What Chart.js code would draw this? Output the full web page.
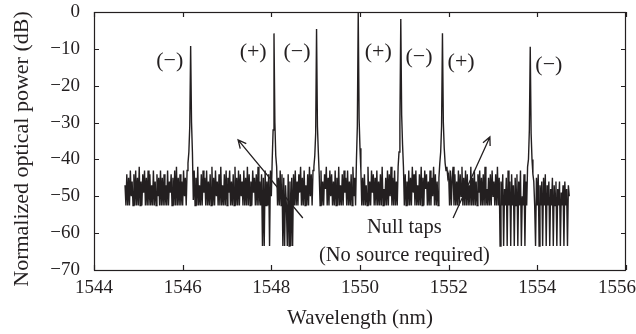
<!DOCTYPE html>
<html>
<head>
<meta charset="utf-8">
<script src="https://cdn.jsdelivr.net/npm/chart.js@4.4.1/dist/chart.umd.min.js"></script>
<style>
  html, body { margin: 0; padding: 0; background: #fff; }
</style>
</head>
<body>
<canvas id="myChart" width="636" height="334"></canvas>
<script>
// OSA sweep: first sample and sample spacing (nm)
const wavelengthStart = 1544.70
const wavelengthStep = 0.02

// normalized optical power (dB), one value per sample, 10 per row
const power = [
  -47, -52.5, -44, -52.5, -45, -52.5, -43, -50, -46, -52.5,
  -44, -52.5, -43, -52.5, -45, -52.5, -42, -52.5, -46, -52.5,
  -44, -49, -43, -52.5, -45, -52.5, -43, -52.5, -44, -52.5,
  -47, -52.5, -43, -52.5, -46, -52.5, -44, -50, -45, -52.5,
  -43, -52.5, -45, -52.5, -44, -52.5, -47, -52.5, -43, -52.5,
  -46, -49, -44, -52.5, -45, -52.5, -43, -52.5, -42, -52.5,
  -45, -52.5, -44, -52.5, -46, -52.5, -43, -50, -45, -52.5,
  -43, -41, -38, -31, -9.2, -30, -38, -51, -43, -52.5,
  -45, -52.5, -42, -52.5, -47, -52.5, -44, -52.5, -43, -49,
  -45, -52.5, -43, -52.5, -46, -52.5, -44, -52.5, -42, -52.5,
  -45, -52.5, -43, -50, -46, -52.5, -44, -52.5, -42, -52.5,
  -47, -52.5, -44, -52.5, -43, -52.5, -45, -49, -43, -52.5,
  -46, -52.5, -44, -52.5, -42, -52.5, -45, -52.5, -43, -52.5,
  -44, -50, -46, -52.5, -43, -52.5, -45, -52.5, -42, -52.5,
  -44, -52.5, -46, -52.5, -43, -49, -45, -52.5, -44, -52.5,
  -42, -52.5, -46, -52.5, -44, -63.5, -45, -63.5, -43, -52.5,
  -46, -52.5, -44, -63.5, -43, -50, -40, -32, -5.8, -30,
  -39, -42, -52.5, -45, -52.5, -43, -52.5, -44, -63.5, -45,
  -63.5, -47, -52.5, -63.5, -44, -63.5, -46, -63.5, -45, -63.5,
  -44, -52.5, -43, -52.5, -46, -52.5, -44, -49, -42, -52.5,
  -45, -52.5, -43, -52.5, -47, -52.5, -44, -52.5, -42, -50,
  -44, -52.5, -43, -42, -39, -33, -4.6, -31, -38, -44,
  -52.5, -43, -52.5, -46, -52.5, -44, -48, -42, -52.5, -45,
  -52.5, -43, -50, -44, -52.5, -46, -52.5, -43, -52.5, -45,
  -52.5, -42, -52.5, -47, -52.5, -44, -52.5, -43, -49, -45,
  -52.5, -43, -52.5, -46, -52.5, -44, -52.5, -42, -50, -45,
  -52.5, -40, -31, 0, -29, -37, -43, -52.5, -45, -52.5,
  -44, -52.5, -47, -52.5, -42, -52.5, -46, -52.5, -43, -49,
  -44, -52.5, -45, -52.5, -43, -52.5, -46, -52.5, -44, -52.5,
  -42, -52.5, -48, -52.5, -45, -52.5, -43, -52.5, -44, -50,
  -42, -52.5, -45, -52.5, -43, -52.5, -46, -52.5, -42, -38,
  -30, -1.9, -28, -36, -42, -52.5, -44, -52.5, -46, -52.5,
  -43, -52.5, -45, -52.5, -42, -49, -44, -52.5, -43, -52.5,
  -47, -52.5, -44, -52.5, -42, -52.5, -45, -52.5, -43, -48,
  -44, -52.5, -46, -52.5, -43, -52.5, -45, -50, -42, -52.5,
  -44, -52.5, -46, -52.5, -45, -41, -38, -31, -5.8, -30,
  -37, -41, -43, -42, -45, -44, -52.5, -43, -52.5, -45,
  -42, -52.5, -44, -52.5, -46, -52.5, -43, -52.5, -44, -50,
  -42, -52.5, -45, -52.5, -43, -52.5, -44, -52.5, -47, -52.5,
  -42, -52.5, -45, -52.5, -43, -52.5, -46, -52.5, -44, -49,
  -43, -52.5, -45, -52.5, -44, -52.5, -42, -52.5, -48, -52.5,
  -45, -52.5, -44, -52.5, -43, -50, -46, -52.5, -44, -52.5,
  -42, -52.5, -45, -63.5, -46, -52.5, -44, -63.5, -48, -52.5,
  -45, -63.5, -43, -52.5, -46, -63.5, -44, -52.5, -47, -63.5,
  -45, -52.5, -44, -63.5, -46, -52.5, -43, -63.5, -50, -52.5,
  -44, -63.5, -46, -52.5, -42, -40, -32, -9.4, -33, -40,
  -44, -46, -52.5, -63.5, -45, -52.5, -44, -63.5, -47, -52.5,
  -46, -63.5, -45, -52.5, -44, -63.5, -47, -52.5, -46, -63.5,
  -48, -52.5, -45, -63.5, -47, -52.5, -46, -63.5, -48, -52.5,
  -46, -63.5, -49, -52.5, -47, -63.5, -46, -52.5, -48, -63.5,
  -47, -50
]

const xTicks = [1544, 1546, 1548, 1550, 1552, 1554, 1556]
const yTicks = [0, -10, -20, -30, -40, -50, -60, -70]

// tap signs written above the peaks
const signs = ['(\u2212)', '(+)', '(\u2212)', '(+)', '(\u2212)', '(+)', '(\u2212)']

// where the signs, arrows and note sit, in axis units
const signAt = [[1545.71, -13.4], [1547.59, -10.9], [1548.58, -10.9], [1550.41, -10.9],
                [1551.33, -12.2], [1552.28, -13.6], [1554.26, -14.4]]
const arrowsAt = [[[1548.71, -55.9], [1547.25, -34.7]], [[1552.10, -55.9], [1552.93, -33.9]]]
const noteAt = [1551.0, -58.5, -66.1]

const ink = '#231f20'
const serif = "'Liberation Serif', 'DejaVu Serif', serif"

const points = power.map((p, i) => ({ x: +(wavelengthStart + i * wavelengthStep).toFixed(3), y: p }))

drawArrow = (ctx, x0, y0, x1, y1) => {
    const ang = Math.atan2(y1 - y0, x1 - x0)
    const len = 9
    ctx.beginPath()
    ctx.moveTo(x0, y0)
    ctx.lineTo(x1, y1)
    ctx.moveTo(x1 - len * Math.cos(ang - 0.45), y1 - len * Math.sin(ang - 0.45))
    ctx.lineTo(x1, y1)
    ctx.lineTo(x1 - len * Math.cos(ang + 0.45), y1 - len * Math.sin(ang + 0.45))
    ctx.stroke()
}

// box round the plot with inward ticks on all four sides, plus the annotations
const boxAndNotes = {
    id: 'boxAndNotes',
    afterDatasetsDraw(chart) {
        const { ctx, chartArea: a, scales: { x, y } } = chart
        ctx.save()
        ctx.strokeStyle = ink
        ctx.lineWidth = 1.2
        ctx.strokeRect(a.left + 0.5, a.top + 0.5, a.right - a.left - 1, a.bottom - a.top)
        const t = 5
        ctx.beginPath()
        xTicks.forEach(v => {
            const px = Math.round(x.getPixelForValue(v)) + 0.5
            ctx.moveTo(px, a.bottom); ctx.lineTo(px, a.bottom - t)
            ctx.moveTo(px, a.top); ctx.lineTo(px, a.top + t)
        })
        yTicks.forEach(v => {
            const py = Math.round(y.getPixelForValue(v)) + 0.5
            ctx.moveTo(a.left, py); ctx.lineTo(a.left + t, py)
            ctx.moveTo(a.right, py); ctx.lineTo(a.right - t, py)
        })
        ctx.stroke()

        ctx.fillStyle = ink
        ctx.textAlign = 'center'

        // wavelength tick labels; the last one is kept inside the canvas
        ctx.textBaseline = 'top'
        ctx.font = '19px ' + serif
        xTicks.forEach(v => {
            const label = String(v)
            const w = ctx.measureText(label).width
            let px = x.getPixelForValue(v)
            if (px + w / 2 > chart.width) px = chart.width - w / 2
            ctx.fillText(label, px, a.bottom + 9)
        })

        ctx.textBaseline = 'middle'
        ctx.font = '22px ' + serif
        signs.forEach((s, i) => {
            ctx.fillText(s, x.getPixelForValue(signAt[i][0]), y.getPixelForValue(signAt[i][1]))
        })
        ctx.font = '20.5px ' + serif
        ctx.fillText('Null taps', x.getPixelForValue(noteAt[0]), y.getPixelForValue(noteAt[1]))
        ctx.fillText('(No source required)', x.getPixelForValue(noteAt[0]), y.getPixelForValue(noteAt[2]))

        ctx.lineWidth = 1.3
        arrowsAt.forEach(([from, to]) => {
            drawArrow(ctx, x.getPixelForValue(from[0]), y.getPixelForValue(from[1]),
                      x.getPixelForValue(to[0]), y.getPixelForValue(to[1]))
        })

        // y axis title, a little below the middle of the plot
        ctx.font = '22px ' + serif
        ctx.translate(22, (a.top + a.bottom) / 2 + 8)
        ctx.rotate(-Math.PI / 2)
        ctx.fillText('Normalized optical power (dB)', 0, 0)
        ctx.restore()
    }
}

new Chart('myChart', {
    type: 'line',
    data: {
        datasets: [{
            data: points,
            borderColor: ink,
            borderWidth: 1.4,
            pointRadius: 0,
            tension: 0
        }]
    },
    options: {
        responsive: false,
        animation: false,
        layout: { padding: { top: 12, right: 10, left: 0, bottom: 0 } },
        plugins: { legend: { display: false }, tooltip: { enabled: false } },
        scales: {
            x: {
                type: 'linear',
                min: 1544,
                max: 1556,
                afterBuildTicks: s => { s.ticks = xTicks.map(v => ({ value: v })) },
                afterFit: s => {
                    s.height = 64
                    s.paddingLeft = 0
                    s.paddingRight = 0
                },
                grid: { display: false, drawTicks: false },
                border: { display: false },
                ticks: { display: false },
                title: { display: true, text: 'Wavelength (nm)', color: ink, padding: { top: 0, bottom: 3 },
                         font: { family: serif, size: 21 } }
            },
            y: {
                min: -70,
                max: 0,
                afterBuildTicks: s => { s.ticks = yTicks.map(v => ({ value: v })) },
                afterFit: s => {
                    s.width = 94
                    s.paddingTop = 0
                    s.paddingBottom = 0
                },
                grid: { display: false, drawTicks: false },
                border: { display: false },
                ticks: {
                    color: ink, padding: 14, font: { family: serif, size: 19 },
                    callback: v => v === 0 ? '0' : '\u2212' + Math.abs(v)
                }
            }
        }
    },
    plugins: [boxAndNotes]
})
</script>
</body>
</html>
